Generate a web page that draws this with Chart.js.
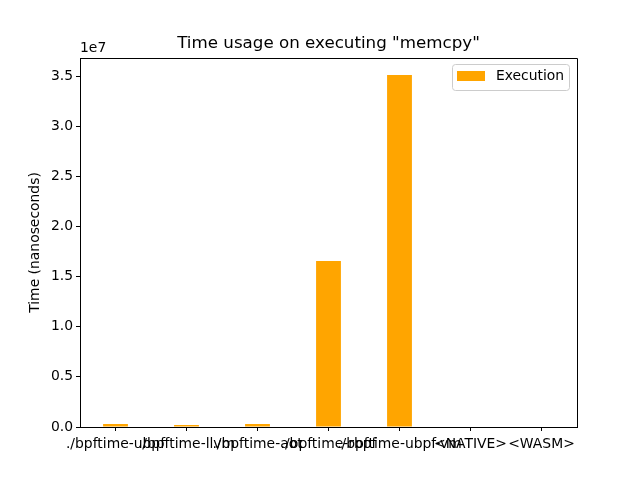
<!DOCTYPE html>
<html>
<head>
<meta charset="utf-8">
<script src="https://cdn.jsdelivr.net/npm/chart.js@4/dist/chart.umd.min.js"></script>
<style>
  html, body { margin: 0; padding: 0; background: #fff; }
</style>
</head>
<body>
<canvas id="grafico" width="640" height="480"></canvas>
<script>
// dados
const categorias = ['./bpftime-ubpf', './bpftime-llvm', './bpftime-aot', './bpftime-rbpf', './bpftime-ubpf-vm', '<NATIVE>', '<WASM>'];
const execucao = [300000, 200000, 300000, 16550000, 35100000, 0, 0];
const yTicks = [0, 0.5e7, 1.0e7, 1.5e7, 2.0e7, 2.5e7, 3.0e7, 3.5e7];

const fonte = 'DejaVu Sans';
const laranja = '#ffa500';

// titulo, legenda, moldura e "1e7"
const extras = {
    id: 'extras',
    afterDraw(chart) {
        const ctx = chart.ctx;
        const a = chart.chartArea;
        ctx.save();
        // moldura (topo e direita)
        ctx.strokeStyle = '#000';
        ctx.lineWidth = 1;
        ctx.beginPath();
        ctx.moveTo(a.left, a.top + 0.5);
        ctx.lineTo(a.right + 0.5, a.top + 0.5);
        ctx.lineTo(a.right + 0.5, a.bottom);
        ctx.stroke();

        ctx.fillStyle = '#000';
        // titulo
        ctx.font = '16.7px "' + fonte + '"';
        ctx.textAlign = 'center';
        ctx.textBaseline = 'middle';
        ctx.fillText('Time usage on executing "memcpy"', (a.left + a.right) / 2, 44);

        // offset do eixo y
        ctx.font = '13.9px "' + fonte + '"';
        ctx.textAlign = 'left';
        ctx.fillText('1e7', a.left, 48);

        // rotulo do eixo y
        ctx.save();
        ctx.translate(35, (a.top + a.bottom) / 2);
        ctx.rotate(-Math.PI / 2);
        ctx.textAlign = 'center';
        ctx.fillText('Time (nanoseconds)', 0, 0);
        ctx.restore();

        // legenda
        const lx = 452, ly = 64, lw = 117, lh = 26;
        ctx.fillStyle = 'rgba(255,255,255,0.8)';
        ctx.strokeStyle = '#cccccc';
        ctx.beginPath();
        ctx.roundRect(lx + 0.5, ly + 0.5, lw, lh, 3);
        ctx.fill();
        ctx.stroke();
        ctx.fillStyle = laranja;
        ctx.fillRect(457, 71, 28, 10);
        ctx.fillStyle = '#000';
        ctx.textAlign = 'left';
        ctx.fillText('Execution', 496, 76);
        ctx.restore();
    }
};

const config = {
    type: 'bar',
    data: {
        labels: categorias,
        datasets: [{
            label: 'Execution',
            data: execucao,
            backgroundColor: laranja,
            borderWidth: 0,
            categoryPercentage: 1.0,
            barPercentage: 0.35
        }]
    },
    options: {
        responsive: false,
        animation: false,
        devicePixelRatio: 1,
        layout: { padding: { top: 58, right: 63, left: 0, bottom: 0 } },
        plugins: {
            legend: { display: false },
            title: { display: false },
            tooltip: { enabled: false }
        },
        scales: {
            x: {
                grid: { offset: false, drawOnChartArea: false, drawTicks: true, tickLength: 4, color: '#000' },
                border: { display: true, color: '#000', width: 1 },
                ticks: {
                    color: '#000',
                    font: { family: fonte, size: 13.9 },
                    maxRotation: 0,
                    minRotation: 0,
                    autoSkip: false,
                    padding: 5
                },
                afterFit(scale) { scale.height = 53; }
            },
            y: {
                min: 0,
                max: 3.68e7,
                grid: { drawOnChartArea: false, drawTicks: true, tickLength: 4, color: '#000' },
                border: { display: true, color: '#000', width: 1 },
                afterBuildTicks(scale) {
                    scale.ticks = yTicks.map(v => ({ value: v }));
                },
                ticks: {
                    color: '#000',
                    font: { family: fonte, size: 13.9 },
                    padding: 3,
                    callback: v => (v / 1e7).toFixed(1)
                },
                afterFit(scale) { scale.width = 80; }
            }
        }
    },
    plugins: [extras]
};

const grafico = new Chart(document.getElementById('grafico'), config);
</script>
</body>
</html>
